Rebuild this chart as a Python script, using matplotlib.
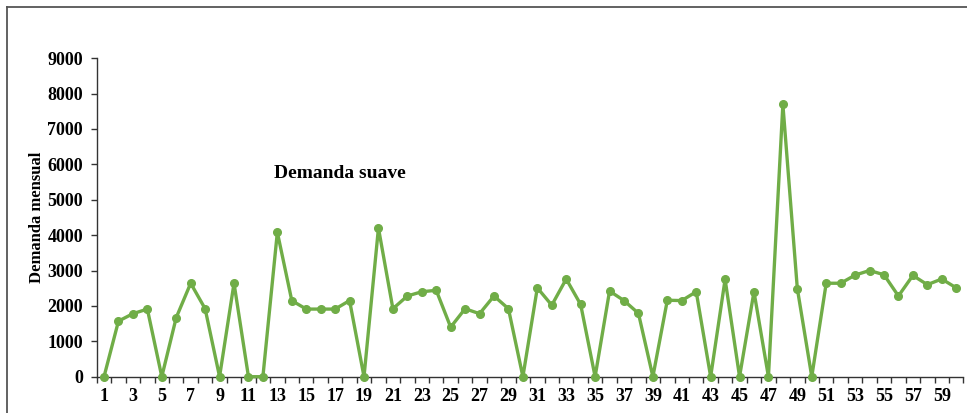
import numpy as np
import matplotlib
matplotlib.use("Agg")
import matplotlib.pyplot as plt
from matplotlib.lines import Line2D
from matplotlib.ticker import FixedLocator

## data: monthly demand, months 1..60
months = np.arange(1, 61)
demand = [0, 1570, 1780, 1910, 0, 1670, 2640, 1920, 0, 2640,
          0, 0, 4080, 2150, 1910, 1910, 1910, 2150, 0, 4200,
          1920, 2280, 2400, 2440, 1400, 1920, 1780, 2280, 1920, 0,
          2510, 2020, 2760, 2040, 0, 2420, 2150, 1790, 0, 2160,
          2150, 2400, 0, 2750, 0, 2400, 0, 7690, 2490, 0,
          2640, 2640, 2870, 3000, 2880, 2280, 2860, 2600, 2760, 2510]
xlabels = [str(m) for m in range(1, 61, 2)]
yticks = np.arange(0, 9001, 1000)

plt.rcParams["font.family"] = ["Liberation Serif", "DejaVu Serif"]
plt.rcParams["font.weight"] = "bold"

fig = plt.figure(figsize=(9.67, 4.13), dpi=100)
ax = fig.add_axes([0.1001, 0.0879, 0.8962, 0.7714])

green = "#70AD47"
ax.plot(months, demand, color=green, lw=2.4, marker="o", ms=5.5, clip_on=False, zorder=3)

ax.set_xlim(0.5, 60.5)
ax.set_ylim(0, 9000)
ax.set_yticks(yticks)
ax.set_xticks(range(1, 61, 2))
ax.set_xticklabels(xlabels, fontsize=13, fontweight="bold")
ax.set_yticklabels([str(v) for v in yticks], fontsize=13, fontweight="bold")
ax.xaxis.set_minor_locator(FixedLocator(np.arange(0.5, 61, 1)))
ax.tick_params(axis="x", which="major", length=0, pad=8)
ax.tick_params(axis="x", which="minor", length=4, width=1, color="#333333")
ax.tick_params(axis="y", length=4, width=1, color="#333333", pad=6)

for s in ["top", "right"]:
    ax.spines[s].set_visible(False)
for s in ["left", "bottom"]:
    ax.spines[s].set_color("#333333")
    ax.spines[s].set_linewidth(1)

ax.set_ylabel("Demanda mensual", fontsize=12, fontweight="bold", labelpad=2)
ax.text(17.3, 5750, "Demanda suave", fontsize=14, fontweight="bold", ha="center", va="center")

# border of the original picture (left and top edges)
fig.add_artist(Line2D([7/967, 7/967], [0, 406.5/413], color="#555555", lw=1.3))
fig.add_artist(Line2D([7/967, 1], [406.5/413, 406.5/413], color="#555555", lw=1.3))

plt.savefig("out.png", dpi=100)
plt.close(fig)
